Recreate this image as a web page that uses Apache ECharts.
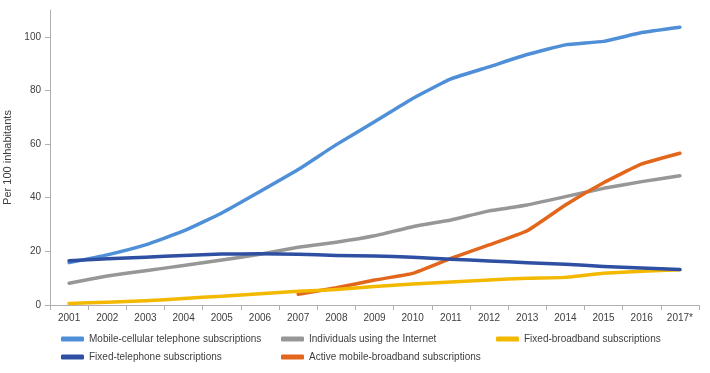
<!DOCTYPE html>
<html><head><meta charset="utf-8">
<script src="https://cdn.jsdelivr.net/npm/echarts@6/dist/echarts.min.js"></script>
<style>html,body{margin:0;padding:0;background:#fff}#c{width:710px;height:373px}</style>
</head><body><div id="c"></div>
<script>
const years = ['2001','2002','2003','2004','2005','2006','2007','2008','2009','2010','2011','2012','2013','2014','2015','2016','2017*'];
const yTicks = [0,20,40,60,80,100];
const mobileCellular = [15.8,18.7,22.4,27.6,34.3,42.3,50.5,59.8,68.3,77,84.3,88.8,93.4,97,98.3,101.6,103.6];
const internetUsers = [8.1,10.8,12.8,14.7,16.8,18.9,21.5,23.4,25.8,29.2,31.7,35.1,37.3,40.4,43.5,46,48.2];
const fixedBroadband = [0.6,1.0,1.6,2.4,3.3,4.2,5.1,5.8,6.9,7.8,8.6,9.3,10,10.3,11.8,12.6,13.1];
const fixedTelephone = [16.5,17.2,17.8,18.5,19.0,19.1,18.9,18.5,18.3,17.8,17.1,16.4,15.8,15.2,14.4,13.8,13.2];
const activeMobileBB = [null,null,null,null,null,null,4.0,6.4,9.3,11.8,17.4,22.4,27.7,37.3,45.6,52.6,56.6];

const names = {
  mc: 'Mobile-cellular telephone subscriptions',
  iu: 'Individuals using the Internet',
  fb: 'Fixed-broadband subscriptions',
  ft: 'Fixed-telephone subscriptions',
  am: 'Active mobile-broadband subscriptions'
};
const colors = {mc:'#4f8fd8', iu:'#979797', fb:'#f3b800', ft:'#2f50a2', am:'#e2671c'};
const font = "'Liberation Sans',Arial,sans-serif";

function line(key, data){
  return {name:names[key], type:'line', data:data, symbol:'none', smooth:0.12, connectNulls:false,
    lineStyle:{width:3.5, color:colors[key], cap:'round', join:'round'}, itemStyle:{color:colors[key]}};
}
const legendBase = {orient:'vertical', top:334, itemWidth:23, itemHeight:5, icon:'roundRect', itemGap:8,
  padding:0, textStyle:{fontFamily:font, fontSize:10, color:'#404040'}, selectedMode:false};

const chart = echarts.init(document.getElementById('c'), null, {renderer:'canvas'});
chart.setOption({
  animation:false,
  backgroundColor:'#fff',
  grid:{left:50, right:11, top:10, bottom:68, outerBoundsMode:'none', containLabel:false},
  legend:[
    Object.assign({left:61, data:[names.mc, names.ft]}, legendBase),
    Object.assign({left:281, data:[names.iu, names.am]}, legendBase),
    Object.assign({left:496, data:[names.fb]}, legendBase)
  ],
  xAxis:{type:'category', data:years, boundaryGap:true,
    axisLine:{lineStyle:{color:'#b0b0b0', width:1}},
    axisTick:{show:true, length:5, interval:0, lineStyle:{color:'#b0b0b0'}},
    axisLabel:{fontFamily:font, fontSize:10, color:'#404040', margin:8, interval:0}},
  yAxis:{type:'value', min:0, max:110, interval:20,
    name:'Per 100 inhabitants', nameLocation:'middle', nameGap:33, nameRotate:90,
    nameTextStyle:{fontFamily:font, fontSize:11, color:'#404040'},
    axisLine:{show:true, lineStyle:{color:'#b0b0b0', width:1}},
    axisTick:{show:true, length:5, lineStyle:{color:'#b0b0b0'}, customValues:yTicks},
    axisLabel:{fontFamily:font, fontSize:10, color:'#404040', margin:9, customValues:yTicks},
    splitLine:{show:false}},
  series:[
    line('mc', mobileCellular),
    line('iu', internetUsers),
    line('am', activeMobileBB),
    line('fb', fixedBroadband),
    line('ft', fixedTelephone)
  ]
});
</script></body></html>
